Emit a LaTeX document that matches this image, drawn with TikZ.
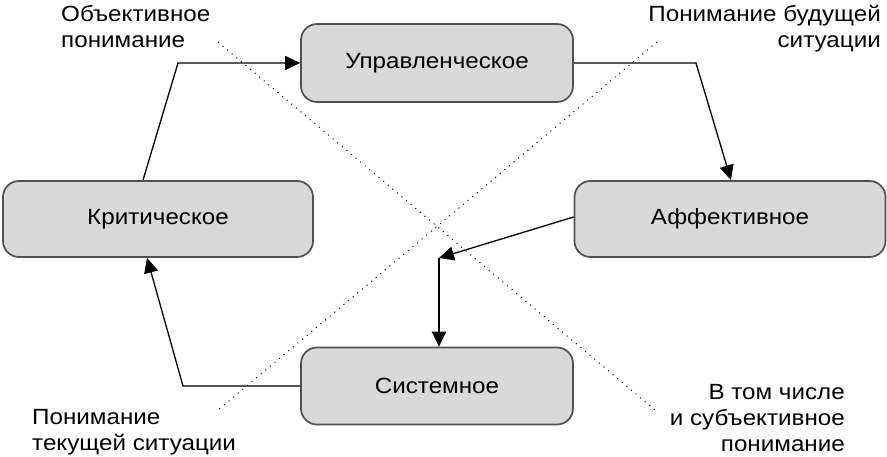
\documentclass[tikz,border=0pt]{standalone}
\usepackage{fontspec}
\setmainfont{Liberation Sans}[FakeStretch=1.1]
\usepackage{tikz}
\usetikzlibrary{arrows.meta}
\definecolor{boxfill}{HTML}{D9D9D9}
\definecolor{boxline}{HTML}{505050}

\begin{document}
\begin{tikzpicture}[x=1pt,y=-1pt,
        font=\fontsize{22}{26}\selectfont,
        stage/.style={draw=boxline,line width=1.7pt,fill=boxfill,rounded corners=16pt,inner sep=0pt},
        flow/.style={line width=1.3pt,-{Triangle[length=15pt,width=14pt]}},
        split/.style={line width=1pt,dash pattern=on 1pt off 5pt},
        note/.style={inner sep=0pt}]
        % Frame
        \useasboundingbox (0,0) rectangle (887,457);
        % Dotted split lines
        \coordinate (d1) at (218,42);
        \coordinate (d2) at (655,410);
        \coordinate (d3) at (657,42);
        \coordinate (d4) at (218,410);
        \draw [split] (d1) -- (d2);
        \draw [split] (d3) -- (d4);
        % Stages
        \node [stage,minimum width=272pt,minimum height=78pt] (upr) at (437,63) {Управленческое};
        \node [stage,minimum width=310pt,minimum height=76pt] (krit) at (158,219) {Критическое};
        \node [stage,minimum width=311pt,minimum height=76pt] (aff) at (730,219) {Аффективное};
        \node [stage,minimum width=272pt,minimum height=77pt] (sys) at (437,386) {Системное};
        % Bends
        \coordinate (c1) at (178,63);
        \coordinate (c2) at (696,63);
        \coordinate (c3) at (439,258);
        \coordinate (c4) at (183,386);
        % Arrows
        \draw [flow] ([xshift=-15pt]krit.north) -- (c1) -- (upr.west);
        \draw [flow] (upr.east) -- (c2) -- ([xshift=1pt]aff.north);
        \draw [flow] ([yshift=2pt]aff.west) -- (c3);
        \draw [flow,line width=2.2pt] (c3) -- (c3 |- sys.north);
        \draw [flow] (sys.west) -- (c4) -- ([xshift=-11pt]krit.south);
        % Notes
        \node [note,anchor=north west,align=left] (objective) at (61,5) {Объективное\\понимание};
        \node [note,anchor=north east,align=right] (future) at (881,5) {Понимание будущей\\ситуации};
        \node [note,anchor=north west,align=left] (current) at (32,409) {Понимание\\текущей ситуации};
        \node [note,anchor=north east,align=right] (subjective) at (845,384) {В том числе\\и субъективное\\понимание};
\end{tikzpicture}
\end{document}
